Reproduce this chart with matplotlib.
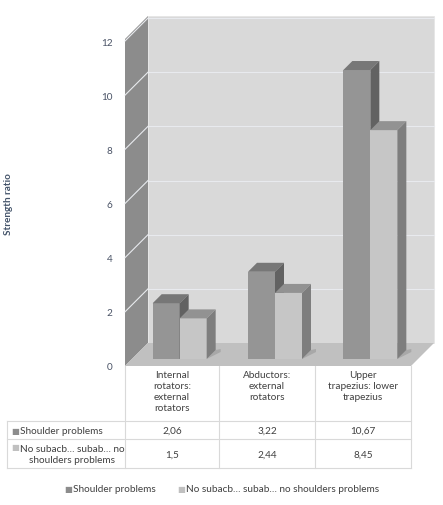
import numpy as np
import matplotlib.pyplot as plt
from matplotlib.patches import Polygon

categories = ["Internal\nrotators:\nexternal\nrotators", "Abductors:\nexternal\nrotators",
              "Upper\ntrapezius: lower\ntrapezius"]
series_names = ["Shoulder problems", "No subacb\u2026 subab\u2026 no shoulders problems"]
table_labels = ["Shoulder problems", "No subacb\u2026 subab\u2026 no\nshoulders problems"]
shoulder = [2.06, 3.22, 10.67]
no_problems = [1.5, 2.44, 8.45]
shoulder_txt = ["2,06", "3,22", "10,67"]
no_problems_txt = ["1,5", "2,44", "8,45"]
yticks = [0, 2, 4, 6, 8, 10, 12]

plt.rcParams['font.family'] = ['Lato', 'DejaVu Sans']
txt_col = '#404040'
tick_col = '#4a5366'
fs = 7.2

W, H = 443, 506
fig = plt.figure(figsize=(W / 100, H / 100), dpi=100)

# background axes in pixel units, used for the data table
bg = fig.add_axes([0, 0, 1, 1])
bg.set_xlim(0, W)
bg.set_ylim(H, 0)
bg.axis('off')

# front plane of the 3d chart
x0, x1, yb, yt = 125, 411, 367, 42
ax = fig.add_axes([x0 / W, (H - yb) / H, (x1 - x0) / W, (yb - yt) / H])
ax.set_xlim(-0.5, 2.5)
ax.set_ylim(0, 12)
ax.patch.set_alpha(0)
for s in ax.spines.values():
    s.set_visible(False)
ax.set_xticks([])
ax.set_yticks(yticks)
ax.tick_params(axis='y', length=0, pad=9, labelsize=fs, labelcolor=tick_col)

# pixel -> data helpers
px_x = 3.0 / (x1 - x0)
px_y = 12.0 / (yb - yt)


def off(px):
    return px * px_x, px * px_y


def poly(pts, fc, ec='none', z=1, lw=0.6):
    ax.add_patch(Polygon(pts, closed=True, fc=fc, ec=ec, lw=lw, zorder=z, clip_on=False))


# walls and floor
dxb, dyb = off(23)
top = 12 + 2 * px_y
poly([(-0.5 + dxb, dyb), (2.5 + dxb, dyb), (2.5 + dxb, top + dyb), (-0.5 + dxb, top + dyb)],
     '#d9d9d9', ec='#e6e6e6', z=0)
poly([(-0.5, 0), (-0.5 + dxb, dyb), (-0.5 + dxb, top + dyb), (-0.5, top)], '#8c8c8c', z=0.5)
poly([(-0.5, 0), (2.5, 0), (2.5 + dxb, dyb), (-0.5 + dxb, dyb)], '#c0c0c0', z=0.6)
for v in yticks[1:]:
    ax.plot([-0.5 + dxb, 2.5 + dxb], [v + dyb, v + dyb], color='#e8eaee', lw=0.8, zorder=0.2,
            clip_on=False)
    ax.plot([-0.5, -0.5 + dxb], [v, v + dyb], color='#e8eaee', lw=0.8, zorder=0.7, clip_on=False)

# bars
bw = 27 * px_x
fx, fy = off(7)
sx, sy = off(9)
xs = np.arange(len(categories))


def bar3d(xl, val, front, topc, side, z):
    l, r = xl + fx, xl + bw + fx
    b, t = fy, val + fy
    poly([(l, b), (r, b), (r, t), (l, t)], front, z=z)
    poly([(l, t), (r, t), (r + sx, t + sy), (l + sx, t + sy)], topc, z=z)
    poly([(r, b), (r + sx, b + sy), (r + sx, t + sy), (r, t)], side, z=z)


for i in xs:
    # soft shadow on the floor
    poly([(i + fx + bw, fy), (i + fx + bw + sx + 5 * px_x, fy + sy - 2 * px_y),
          (i + fx + bw + sx + 5 * px_x, fy + sy + 1 * px_y), (i + fx + bw + sx, fy + sy)],
         '#a8a8a8', z=0.8)
    bar3d(i - bw, shoulder[i], '#959595', '#777777', '#626262', 2 + i)
    bar3d(i, no_problems[i], '#c6c6c6', '#929292', '#7e7e7e', 2.5 + i)

# y label
fig.text(9 / W, 1 - 204 / H, "Strength ratio", rotation=90, ha='center', va='center',
         fontsize=fs, fontweight='bold', color='#44546A')

# data table
gcol = '#d9d9d9'
cols = [125, 219, 315, 411]
rows = [422, 440, 469]
for c in cols:
    bg.plot([c, c], [367, 469], color=gcol, lw=0.8)
bg.plot([7, 7], [422, 469], color=gcol, lw=0.8)
for r in rows:
    bg.plot([7, 411], [r, r], color=gcol, lw=0.8)

for i, cat in enumerate(categories):
    cx = (cols[i] + cols[i + 1]) / 2
    bg.text(cx, 371, cat, ha='center', va='top', fontsize=fs, color=txt_col, linespacing=1.3)
    bg.text(cx, 431.5, shoulder_txt[i], ha='center', va='center', fontsize=fs, color=txt_col)
    bg.text(cx, 455, no_problems_txt[i], ha='center', va='center', fontsize=fs, color=txt_col)

bg.text(11, 431.5, "\u25a0", ha='left', va='center', fontsize=6, color='#8c8c8c')
bg.text(20, 431.5, table_labels[0], ha='left', va='center', fontsize=fs, color=txt_col)
bg.text(11, 448, "\u25a0", ha='left', va='center', fontsize=6, color='#c0c0c0')
bg.text(20, 455, table_labels[1], ha='left', va='center', fontsize=fs, color=txt_col,
        linespacing=1.3, multialignment='center')

# legend
bg.text(64, 490, "\u25a0", ha='left', va='center', fontsize=6, color='#8c8c8c')
bg.text(73, 490, series_names[0], ha='left', va='center', fontsize=fs, color=txt_col)
bg.text(177, 490, "\u25a0", ha='left', va='center', fontsize=6, color='#c0c0c0')
bg.text(186, 490, series_names[1], ha='left', va='center', fontsize=fs, color=txt_col)

fig.savefig('out.png', dpi=100)
